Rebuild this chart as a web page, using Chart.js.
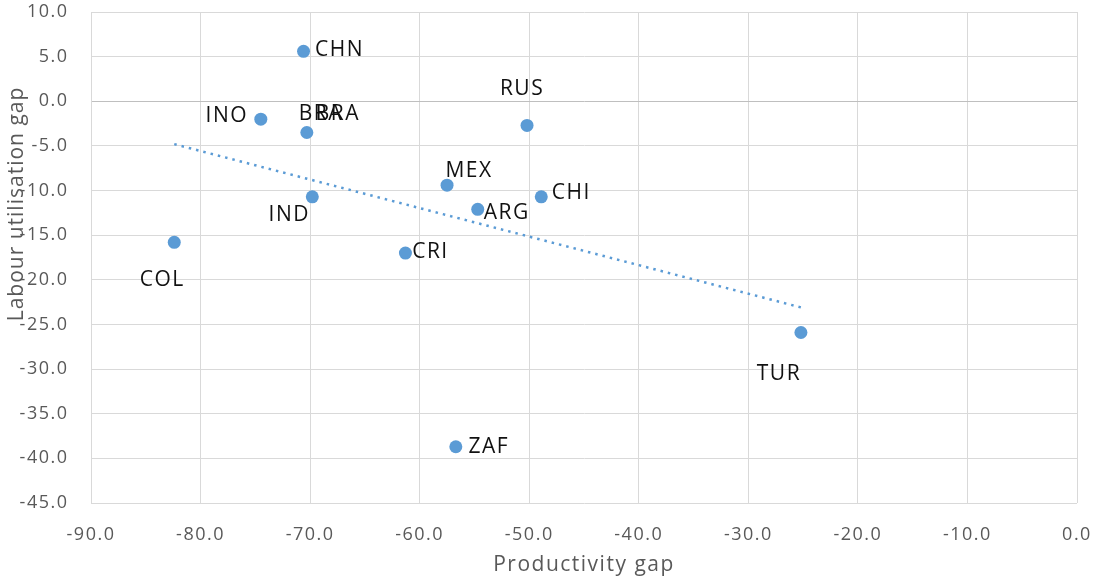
<!DOCTYPE html>
<html>
<head>
<meta charset="utf-8">
<script src="https://cdn.jsdelivr.net/npm/chart.js@4.4.1/dist/chart.umd.min.js"></script>
<style>
  html, body { margin: 0; padding: 0; background: #fff; }
  #wrap { width: 1097px; height: 580px; }
</style>
</head>
<body>
<div id="wrap"><canvas id="gapChart" width="1097" height="580"></canvas></div>
<script>
// country codes and values
const countries = ['CHN', 'INO', 'BRA', 'RUS', 'MEX', 'CHI', 'IND', 'ARG', 'COL', 'CRI', 'TUR', 'ZAF'];
const productivityGap = [-70.6, -74.5, -70.3, -50.2, -57.5, -48.9, -69.8, -54.7, -82.4, -61.3, -25.2, -56.7];
const labourGap = [5.6, -2.0, -3.5, -2.7, -9.4, -10.7, -10.7, -12.1, -15.8, -17.0, -25.9, -38.7];
const xTicks = [-90, -80, -70, -60, -50, -40, -30, -20, -10, 0];
const yTicks = [10, 5, 0, -5, -10, -15, -20, -25, -30, -35, -40, -45];

// label placement (pixel offset of label centre from its point)
const labelOffsets = {
    CHN: [[35, -1]], INO: [[-35, -3]], BRA: [[13, -19], [30, -19]], RUS: [[-6, -36]],
    MEX: [[21, -14]], CHI: [[29, -4]], IND: [[-24, 18]], ARG: [[28, 4]],
    COL: [[-13, 38]], CRI: [[24, -1]], TUR: [[-23, 42]], ZAF: [[32, 0]]
};

const BLUE = '#5b9bd5';
const GREY = '#595959';

const points = countries.map(function (c, i) {
    return { x: productivityGap[i], y: labourGap[i] };
});

// linear trendline (least squares) from the points
const n = points.length;
const mx = productivityGap.reduce((a, b) => a + b, 0) / n;
const my = labourGap.reduce((a, b) => a + b, 0) / n;
let sxy = 0, sxx = 0;
for (let i = 0; i < n; i++) {
    sxy += (productivityGap[i] - mx) * (labourGap[i] - my);
    sxx += (productivityGap[i] - mx) * (productivityGap[i] - mx);
}
const slope = sxy / sxx;
const intercept = my - slope * mx;
const xMin = Math.min.apply(null, productivityGap);
const xMax = Math.max.apply(null, productivityGap);
const trend = [
    { x: xMin, y: intercept + slope * xMin },
    { x: xMax, y: intercept + slope * xMax }
];

const spacingPlugin = {
    id: 'spacing',
    beforeLayout: function (chart) { chart.ctx.letterSpacing = '1.5px'; },
    beforeDraw: function (chart) { chart.ctx.letterSpacing = '1.5px'; }
};

// y title drawn by hand: in the original it sits above the middle of the axis
const yTitlePlugin = {
    id: 'yTitle',
    afterDraw: function (chart) {
        const ctx = chart.ctx;
        ctx.save();
        ctx.letterSpacing = '1px';
        ctx.translate(17, 204);
        ctx.rotate(-Math.PI / 2);
        ctx.font = '21px "Open Sans"';
        ctx.fillStyle = GREY;
        ctx.textAlign = 'center';
        ctx.textBaseline = 'middle';
        ctx.fillText('Labour utilisation gap', 0, 0);
        ctx.restore();
    }
};

const labelPlugin = {
    id: 'pointLabels',
    afterDatasetsDraw: function (chart) {
        const ctx = chart.ctx;
        const meta = chart.getDatasetMeta(0);
        ctx.save();
        ctx.letterSpacing = '1.5px';
        ctx.font = '21px "Open Sans"';
        ctx.fillStyle = '#111';
        ctx.textAlign = 'center';
        ctx.textBaseline = 'middle';
        meta.data.forEach(function (el, i) {
            const offs = labelOffsets[countries[i]] || [[0, -18]];
            offs.forEach(function (o) {
                ctx.fillText(countries[i], el.x + o[0] + 1, el.y + o[1]);
            });
        });
        ctx.restore();
    }
};

function noPad(axis) {
    axis.paddingTop = 0;
    axis.paddingBottom = 0;
    axis.paddingLeft = 0;
    axis.paddingRight = 0;
}

document.addEventListener('DOMContentLoaded', function () {
    const canvas = document.getElementById('gapChart');
    const ctx = canvas.getContext('2d');

    canvas.chart = new Chart(ctx, {
        type: 'scatter',
        data: {
            datasets: [{
                label: 'Countries',
                data: points,
                backgroundColor: BLUE,
                borderColor: BLUE,
                borderWidth: 0,
                pointRadius: 6.5,
                order: 1
            }, {
                type: 'line',
                label: 'Trend',
                data: trend,
                borderColor: BLUE,
                borderWidth: 2.5,
                borderDash: [2.5, 5],
                pointRadius: 0,
                fill: false,
                order: 2
            }]
        },
        options: {
            responsive: false,
            animation: false,
            devicePixelRatio: 1,
            layout: { padding: { top: 12, right: 20, bottom: 0, left: 0 } },
            scales: {
                x: {
                    type: 'linear',
                    min: -90,
                    max: 0,
                    afterBuildTicks: function (axis) {
                        axis.ticks = xTicks.map(v => ({ value: v }));
                    },
                    afterFit: function (axis) { axis.height = 77; noPad(axis); },
                    grid: { color: '#d9d9d9', lineWidth: 1, drawTicks: false },
                    border: { display: false },
                    ticks: {
                        color: GREY,
                        font: { family: 'Open Sans', size: 18 },
                        padding: 21,
                        maxRotation: 0,
                        callback: v => v.toFixed(1)
                    },
                    title: {
                        display: true,
                        text: 'Productivity gap',
                        color: GREY,
                        font: { family: 'Open Sans', size: 21 },
                        padding: { top: 0, bottom: 2 }
                    }
                },
                y: {
                    type: 'linear',
                    min: -45,
                    max: 10,
                    afterBuildTicks: function (axis) {
                        axis.ticks = yTicks.map(v => ({ value: v }));
                    },
                    afterFit: function (axis) { axis.width = 91; noPad(axis); },
                    grid: {
                        color: c => (c.tick && c.tick.value === 0 ? '#bfbfbf' : '#d9d9d9'),
                        lineWidth: 1,
                        drawTicks: false
                    },
                    border: { display: true, color: '#d9d9d9' },
                    ticks: {
                        color: GREY,
                        font: { family: 'Open Sans', size: 18 },
                        padding: 22.5,
                        callback: v => v.toFixed(1)
                    },
                    title: { display: false }
                }
            },
            plugins: {
                legend: { display: false },
                tooltip: { enabled: false }
            }
        },
        plugins: [spacingPlugin, labelPlugin, yTitlePlugin]
    });
});
</script>
</body>
</html>
